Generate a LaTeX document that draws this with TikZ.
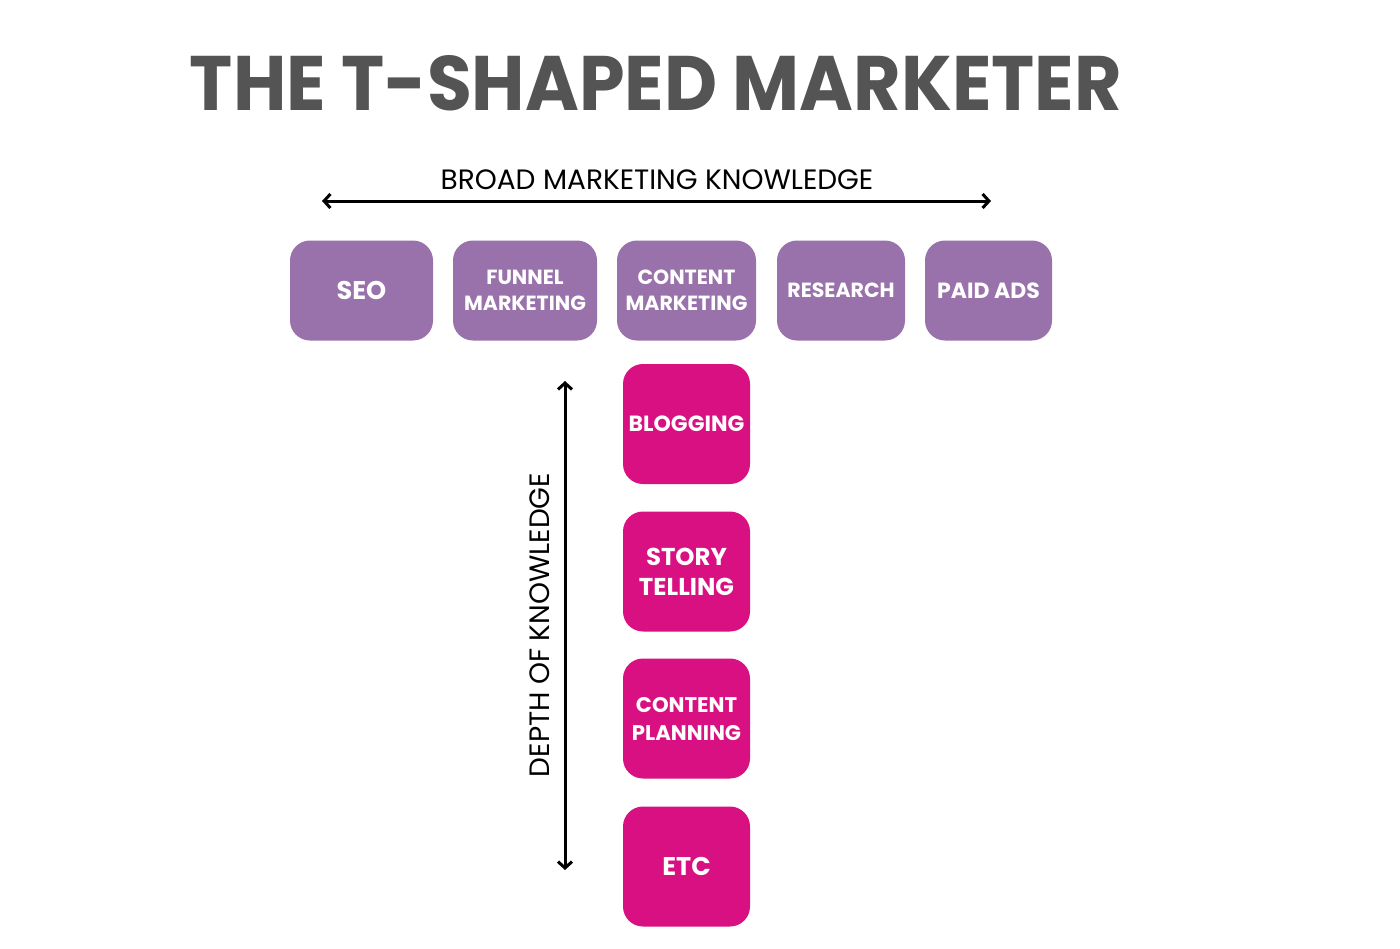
\documentclass[tikz,border=0pt]{standalone}
\usepackage{fontspec}
\setmainfont{Poppins}
\usetikzlibrary{arrows.meta}
\definecolor{titlegray}{HTML}{545454}
\definecolor{broadpurple}{HTML}{9A72AB}
\definecolor{deeppink}{HTML}{D81081}
\tikzset{
  broadbox/.style={fill=broadpurple, rounded corners=10pt, inner sep=0pt, text=white,
    font=\fontsize{10.25}{13}\selectfont\bfseries, align=center},
  deepbox/.style={fill=deeppink, rounded corners=10pt, inner sep=0pt, text=white,
    minimum width=63.5pt, minimum height=60pt,
    font=\fontsize{12.2}{15}\selectfont\bfseries, align=center},
  axisarrow/.style={line width=1.5pt, {Straight Barb[length=3.2pt,width=7pt]}-{Straight Barb[length=3.2pt,width=7pt]}},
  axislabel/.style={font=\fontsize{14}{16}\selectfont, text=black, inner sep=0pt},
}
\begin{document}
\begin{tikzpicture}[x=0.5pt,y=-0.5pt]
\useasboundingbox[fill=white] (0,0) rectangle (1400,948);
\node[text=titlegray, inner sep=0pt] (title) at (656,83)
  {\resizebox{466pt}{27.5pt}{\bfseries THE T-SHAPED MARKETER}};
% broad
\node[axislabel] (broadlabel) at (657,180) {BROAD MARKETING KNOWLEDGE};
\coordinate (bl) at (322,201);
\coordinate (br) at (991,201);
\draw[axisarrow] (bl) -- (br);
\node[broadbox, minimum width=71.5pt, minimum height=50pt, font=\fontsize{12.8}{13}\selectfont\bfseries] (seo) at (361.5,290.5) {SEO};
\node[broadbox, minimum width=72pt, minimum height=50pt] (funnel) at (525,290.5) {FUNNEL\\MARKETING};
\node[broadbox, minimum width=69.5pt, minimum height=50pt] (content) at (686.5,290.5) {CONTENT\\MARKETING};
\node[broadbox, minimum width=64pt, minimum height=50pt] (research) at (841,290.5) {RESEARCH};
\node[broadbox, minimum width=63.5pt, minimum height=50pt, font=\fontsize{11}{13}\selectfont\bfseries] (paid) at (988.5,290.5) {PAID ADS};
% deep
\node[deepbox, font=\fontsize{11}{13}\selectfont\bfseries] (blog) at (686.5,424) {BLOGGING};
\node[deepbox] (story) at (686.5,571.5) {STORY\\TELLING};
\node[deepbox, font=\fontsize{10.6}{14}\selectfont\bfseries] (plan) at (686.5,718.5) {CONTENT\\PLANNING};
\node[deepbox, font=\fontsize{12.8}{13}\selectfont\bfseries] (etc) at (686.5,866.5) {ETC};
\coordinate (dt) at (565,381);
\coordinate (db) at (565,870);
\draw[axisarrow] (dt) -- (db);
\node[axislabel, rotate=90] (deeplabel) at (540,625) {DEPTH OF KNOWLEDGE};
\end{tikzpicture}
\end{document}
